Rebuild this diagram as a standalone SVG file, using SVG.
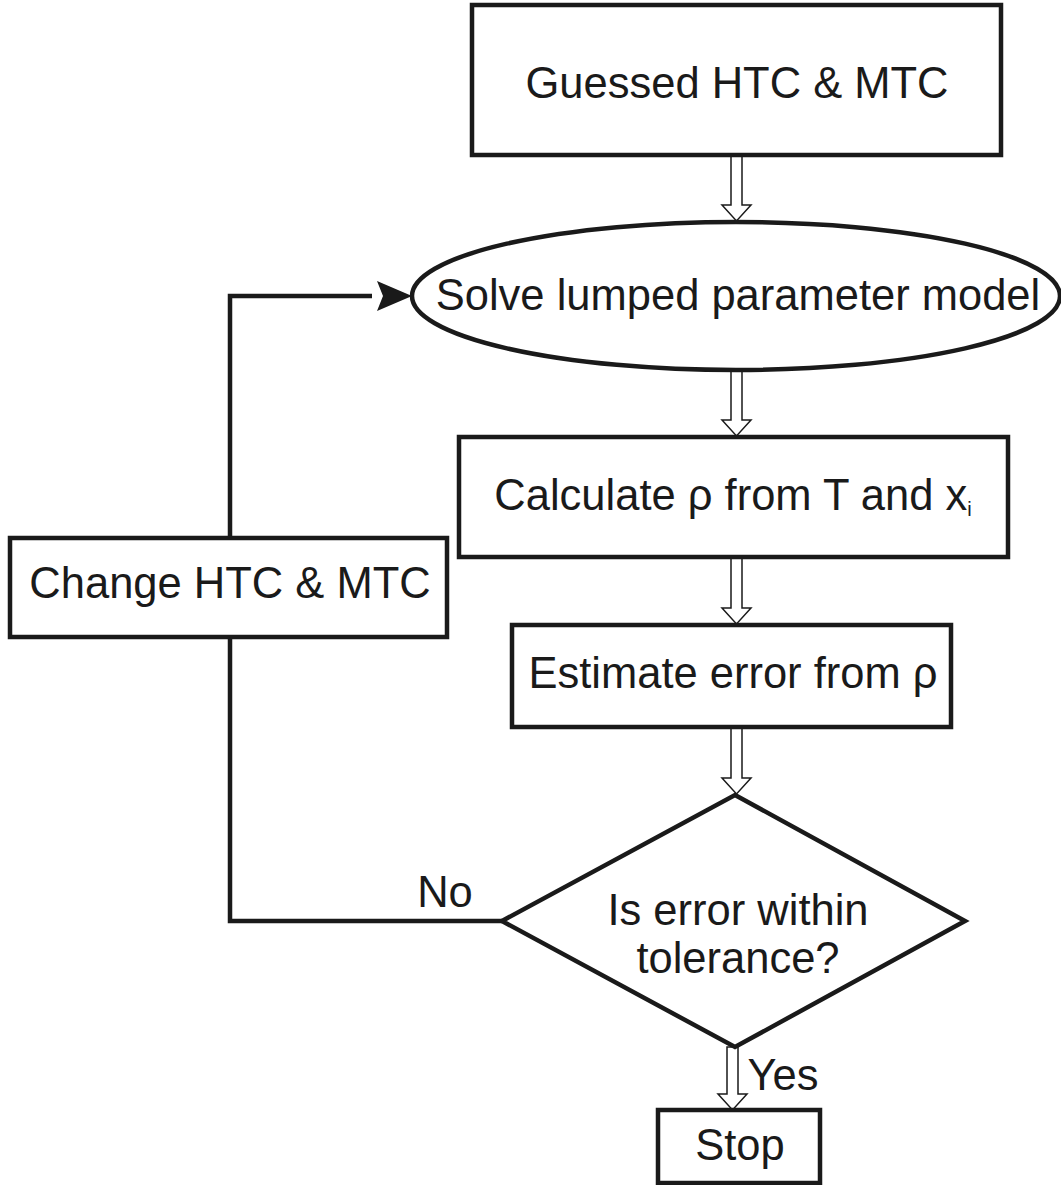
<svg xmlns="http://www.w3.org/2000/svg" width="1061" height="1185" viewBox="0 0 1061 1185">
<defs>
<style>
.n{fill:#fff;stroke:#1a1a1a;stroke-width:4.5}
.t{font-family:"Liberation Sans",Arial,sans-serif;font-size:43.5px;fill:#1a1a1a;text-anchor:middle}
.c{fill:none;stroke:#1a1a1a;stroke-width:4.5}
.h{fill:#fff;stroke:#1a1a1a;stroke-width:1.5}
</style>
</defs>
<rect width="1061" height="1185" fill="#fff"/>
<g id="connectors">
<path class="c" d="M230,538 V296 H372"/>
<path d="M377,281 L412,296 L377,311 L383,296 Z" fill="#1a1a1a"/>
<path class="c" d="M230,637 V921 H502"/>
<path class="h" d="M731,155 V205 H722 L736.5,221 L751,205 H742 V155 Z"/>
<path class="h" d="M731,370 V420 H722 L736.5,436 L751,420 H742 V370 Z"/>
<path class="h" d="M731,557 V608 H722 L736.5,624 L751,608 H742 V557 Z"/>
<path class="h" d="M731,727 V778 H722 L736.5,794 L751,778 H742 V727 Z"/>
<path class="h" d="M727,1047 V1094 H718 L732.5,1110 L747,1094 H738 V1047 Z"/>
<text class="t" x="445" y="907">No</text>
<text class="t" x="783" y="1090">Yes</text>
</g>
<g id="n1"><rect class="n" x="472" y="5" width="529" height="150"/><text class="t" x="737" y="98">Guessed HTC &amp; MTC</text></g>
<g id="n2"><ellipse class="n" cx="736" cy="296" rx="324" ry="74"/><text class="t" x="738" y="310">Solve lumped parameter model</text></g>
<g id="n3"><rect class="n" x="459" y="437" width="549" height="120"/><text class="t" x="733" y="510">Calculate ρ from T and x<tspan font-size="20" dy="6">i</tspan></text></g>
<g id="n4"><rect class="n" x="512" y="625" width="439" height="102"/><text class="t" x="733" y="688">Estimate error from ρ</text></g>
<g id="n5"><path class="n" d="M735,795 L965,921 L735,1047 L502,921 Z"/><text class="t" x="738" y="925">Is error within</text><text class="t" x="738" y="973">tolerance?</text></g>
<g id="n6"><rect class="n" x="658" y="1110" width="162" height="73"/><text class="t" x="740" y="1160">Stop</text></g>
<g id="n7"><rect class="n" x="10" y="538" width="437" height="99"/><text class="t" x="230" y="598">Change HTC &amp; MTC</text></g>
</svg>
